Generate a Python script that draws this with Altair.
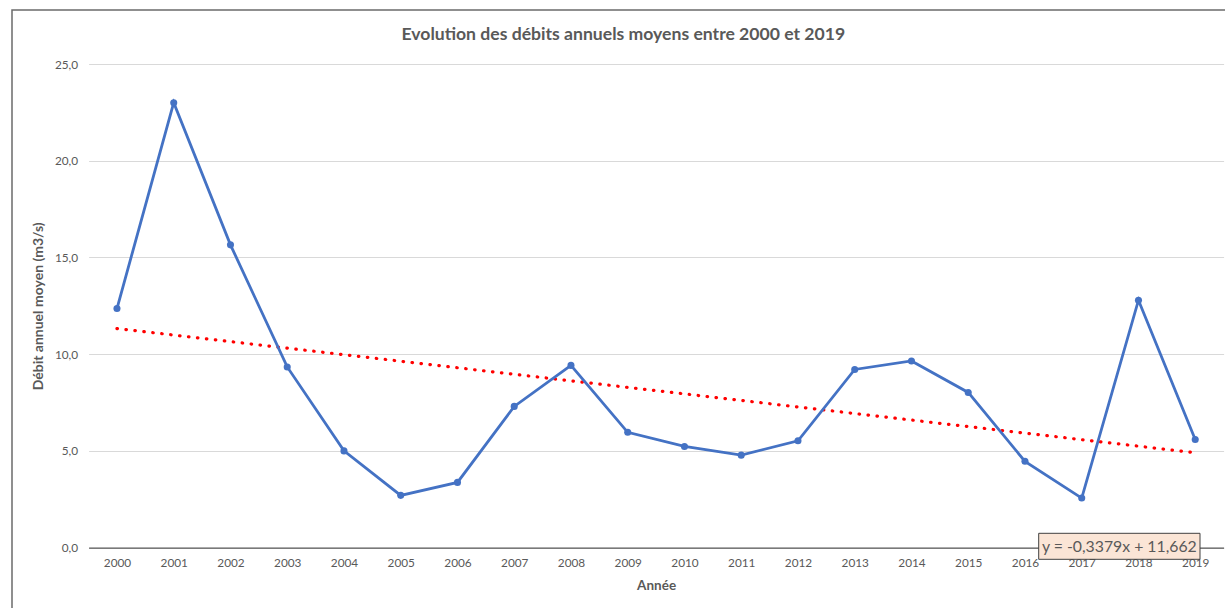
import altair as alt
import pandas as pd

# ---- data ----
years = ["2000", "2001", "2002", "2003", "2004", "2005", "2006", "2007", "2008", "2009",
         "2010", "2011", "2012", "2013", "2014", "2015", "2016", "2017", "2018", "2019"]
debits = [12.36, 23.00, 15.65, 9.34, 5.00, 2.70, 3.37, 7.30, 9.42, 5.96,
          5.23, 4.78, 5.52, 9.21, 9.65, 8.02, 4.46, 2.56, 12.79, 5.59]
trend_slope = -0.3379
trend_intercept = 11.662
y_ticks = [0, 5, 10, 15, 20, 25]

title_text = "Evolution des débits annuels moyens entre 2000 et 2019"
equation_text = "y = -0,3379x + 11,662"

df = pd.DataFrame({"Année": years, "Débit": debits, "rang": list(range(1, len(years) + 1))})
one = pd.DataFrame({"k": [0]})

W, H = 1135, 483.6
GRAY = "#595959"
FONT = "Lato"

x_enc = alt.X(
    "Année:O",
    scale=alt.Scale(type="point", padding=0.5),
    axis=alt.Axis(
        title="Année", labelAngle=0, ticks=False, grid=False,
        domainColor=GRAY, domainWidth=1.4,
        labelPadding=10, titlePadding=9,
        labelFontSize=11.8, titleFontSize=13.5,
    ),
)
y_enc = alt.Y(
    "Débit:Q",
    scale=alt.Scale(domain=[0, 25], nice=False),
    axis=alt.Axis(
        title="Débit annuel moyen (m3/s)", values=y_ticks,
        labelExpr="replace(format(datum.value, '.1f'), '.', ',')",
        domain=False, ticks=False, grid=True, gridColor="#d9d9d9", gridWidth=1,
        labelPadding=11, titlePadding=9,
        labelFontSize=11.8, titleFontSize=14,
    ),
)

base = alt.Chart(df)

line = base.mark_line(color="#4472C4", strokeWidth=2.8).encode(x=x_enc, y=y_enc)
points = base.mark_point(filled=True, color="#4472C4", size=50, opacity=1).encode(x=x_enc, y=y_enc)

trend = base.transform_calculate(
    tendance=f"datum.rang * {trend_slope} + {trend_intercept}"
).mark_line(
    color="#FF0000", strokeWidth=3.2, strokeDash=[0.5, 8.5], strokeCap="round"
).encode(x=x_enc, y="tendance:Q")

border = alt.Chart(one).mark_rect(fillOpacity=0, stroke="#6b6b6b", strokeWidth=1.5).encode(
    x=alt.value(-76.6), x2=alt.value(W + 100), y=alt.value(-54), y2=alt.value(H + 100)
)

title = alt.Chart(one).mark_text(
    text=title_text, font=FONT, fontSize=17.6, fontWeight="bold", color=GRAY,
    align="center", baseline="middle"
).encode(x=alt.value(534.7), y=alt.value(-29))

eq_box = alt.Chart(one).mark_rect(fill="#FBE5D6", stroke="#404040", strokeWidth=1).encode(
    x=alt.value(950.1), x2=alt.value(1111.4), y=alt.value(469.3), y2=alt.value(495.3)
)
eq_text = alt.Chart(one).mark_text(
    text=equation_text, font=FONT, fontSize=15.8, color=GRAY,
    align="center", baseline="middle"
).encode(x=alt.value(1030.75), y=alt.value(482.8))

chart = alt.layer(border, title, trend, line, points, eq_box, eq_text).properties(
    width=W, height=H,
    autosize=alt.AutoSizeParams(type="none"),
    padding={"left": 88.6, "top": 64, "right": 1.4, "bottom": 60.4},
    background="white",
).configure_view(stroke=None).configure_axis(
    labelFont=FONT, titleFont=FONT, labelColor=GRAY, titleColor=GRAY,
    titleFontWeight="bold",
)

chart.save("out.html", embed_options={"renderer": "svg", "actions": False})
